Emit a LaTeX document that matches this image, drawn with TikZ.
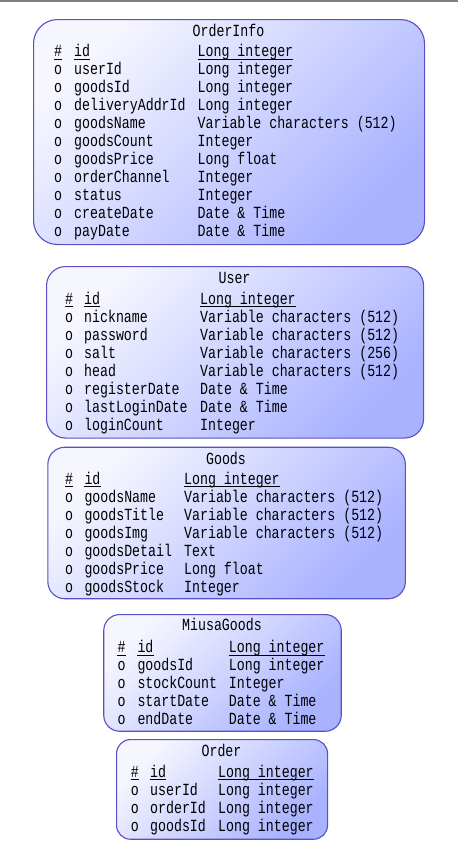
\documentclass[tikz,border=0pt]{standalone}
\usepackage{fontspec}
\newfontfamily\erfont[FakeStretch=0.78]{Liberation Mono}
\definecolor{boxlight}{RGB}{246,246,255}
\definecolor{boxdark}{RGB}{168,178,255}
\definecolor{boxline}{RGB}{88,80,196}
\definecolor{topline}{RGB}{128,128,128}
\tikzset{
  tablebox/.style={draw=boxline, line width=1.1pt, top color=boxlight, bottom color=boxdark,
    shading angle=45, anchor=north west, inner sep=0pt},
  cell/.style={anchor=base west, inner sep=0pt, font=\erfont\fontsize{17}{17}\selectfont, text=black},
  titlecell/.style={anchor=base, inner sep=0pt, font=\erfont\fontsize{17}{17}\selectfont, text=black},
  uline/.style={draw=black, line width=0.9pt}
}
\newcommand{\errow}[5]{%
  \node[cell] (#1-m) at (\erMX,#2) {#3};
  \node[cell] (#1-n) at (\erNX,#2) {#4};
  \node[cell] (#1-t) at (\erTX,#2) {#5};
}
\newcommand{\erkey}[1]{%
  \draw[uline] ([yshift=-2.3pt]#1-m.base west) -- ([yshift=-2.3pt]#1-m.base east);
  \draw[uline] ([yshift=-2.3pt]#1-n.base west) -- ([yshift=-2.3pt]#1-n.base east);
  \draw[uline] ([yshift=-2.3pt]#1-t.base west) -- ([yshift=-2.3pt]#1-t.base east);
}
\begin{document}
\begin{tikzpicture}[x=1pt,y=-1pt]
\useasboundingbox (0,0) rectangle (458,849);
\fill[white] (0,0) rectangle (458,849);
\fill[topline] (0,0) rectangle (458,2);

% ---------- OrderInfo ----------
\node[tablebox, rounded corners=24pt, minimum width=391pt, minimum height=225pt] (OrderInfo) at (33,19) {};
\node[titlecell] (OrderInfo-title) at (228.5,36.7) {OrderInfo};
\def\erMX{54}\def\erNX{74}\def\erTX{197.5}
\errow{oi1}{56.7}{\#}{id}{Long integer}
\erkey{oi1}
\errow{oi2}{74.7}{o}{userId}{Long integer}
\errow{oi3}{92.7}{o}{goodsId}{Long integer}
\errow{oi4}{110.7}{o}{deliveryAddrId}{Long integer}
\errow{oi5}{128.7}{o}{goodsName}{Variable characters (512)}
\errow{oi6}{146.7}{o}{goodsCount}{Integer}
\errow{oi7}{164.7}{o}{goodsPrice}{Long float}
\errow{oi8}{182.7}{o}{orderChannel}{Integer}
\errow{oi9}{200.7}{o}{status}{Integer}
\errow{oi10}{218.7}{o}{createDate}{Date \& Time}
\errow{oi11}{236.7}{o}{payDate}{Date \& Time}

% ---------- User ----------
\node[tablebox, rounded corners=19pt, minimum width=377pt, minimum height=171.5pt] (User) at (46,266) {};
\node[titlecell] (User-title) at (234.5,283.3) {User};
\def\erMX{65}\def\erNX{84}\def\erTX{200}
\errow{u1}{304.3}{\#}{id}{Long integer}
\erkey{u1}
\errow{u2}{322.3}{o}{nickname}{Variable characters (512)}
\errow{u3}{340.3}{o}{password}{Variable characters (512)}
\errow{u4}{358.3}{o}{salt}{Variable characters (256)}
\errow{u5}{376.3}{o}{head}{Variable characters (512)}
\errow{u6}{394.3}{o}{registerDate}{Date \& Time}
\errow{u7}{412.3}{o}{lastLoginDate}{Date \& Time}
\errow{u8}{430.3}{o}{loginCount}{Integer}

% ---------- Goods ----------
\node[tablebox, rounded corners=17pt, minimum width=357.5pt, minimum height=151.5pt] (Goods) at (47.3,446.7) {};
\node[titlecell] (Goods-title) at (226,464) {Goods};
\def\erMX{65}\def\erNX{84.3}\def\erTX{184}
\errow{g1}{484.3}{\#}{id}{Long integer}
\erkey{g1}
\errow{g2}{502.3}{o}{goodsName}{Variable characters (512)}
\errow{g3}{520.3}{o}{goodsTitle}{Variable characters (512)}
\errow{g4}{538.3}{o}{goodsImg}{Variable characters (512)}
\errow{g5}{556.3}{o}{goodsDetail}{Text}
\errow{g6}{574.3}{o}{goodsPrice}{Long float}
\errow{g7}{592.3}{o}{goodsStock}{Integer}

% ---------- MiusaGoods ----------
\node[tablebox, rounded corners=16pt, minimum width=237.5pt, minimum height=116.7pt] (MiusaGoods) at (103.2,614) {};
\node[titlecell] (MiusaGoods-title) at (222,630.7) {MiusaGoods};
\def\erMX{117.3}\def\erNX{137.3}\def\erTX{228.7}
\errow{mg1}{652.7}{\#}{id}{Long integer}
\erkey{mg1}
\errow{mg2}{670.7}{o}{goodsId}{Long integer}
\errow{mg3}{688.7}{o}{stockCount}{Integer}
\errow{mg4}{706.7}{o}{startDate}{Date \& Time}
\errow{mg5}{724.7}{o}{endDate}{Date \& Time}

% ---------- Order ----------
\node[tablebox, rounded corners=14pt, minimum width=211pt, minimum height=99.7pt] (Order) at (116,739) {};
\node[titlecell] (Order-title) at (221.5,756) {Order};
\def\erMX{130.7}\def\erNX{150}\def\erTX{218}
\errow{o1}{777.3}{\#}{id}{Long integer}
\erkey{o1}
\errow{o2}{795.3}{o}{userId}{Long integer}
\errow{o3}{813.3}{o}{orderId}{Long integer}
\errow{o4}{831.3}{o}{goodsId}{Long integer}
\end{tikzpicture}
\end{document}
